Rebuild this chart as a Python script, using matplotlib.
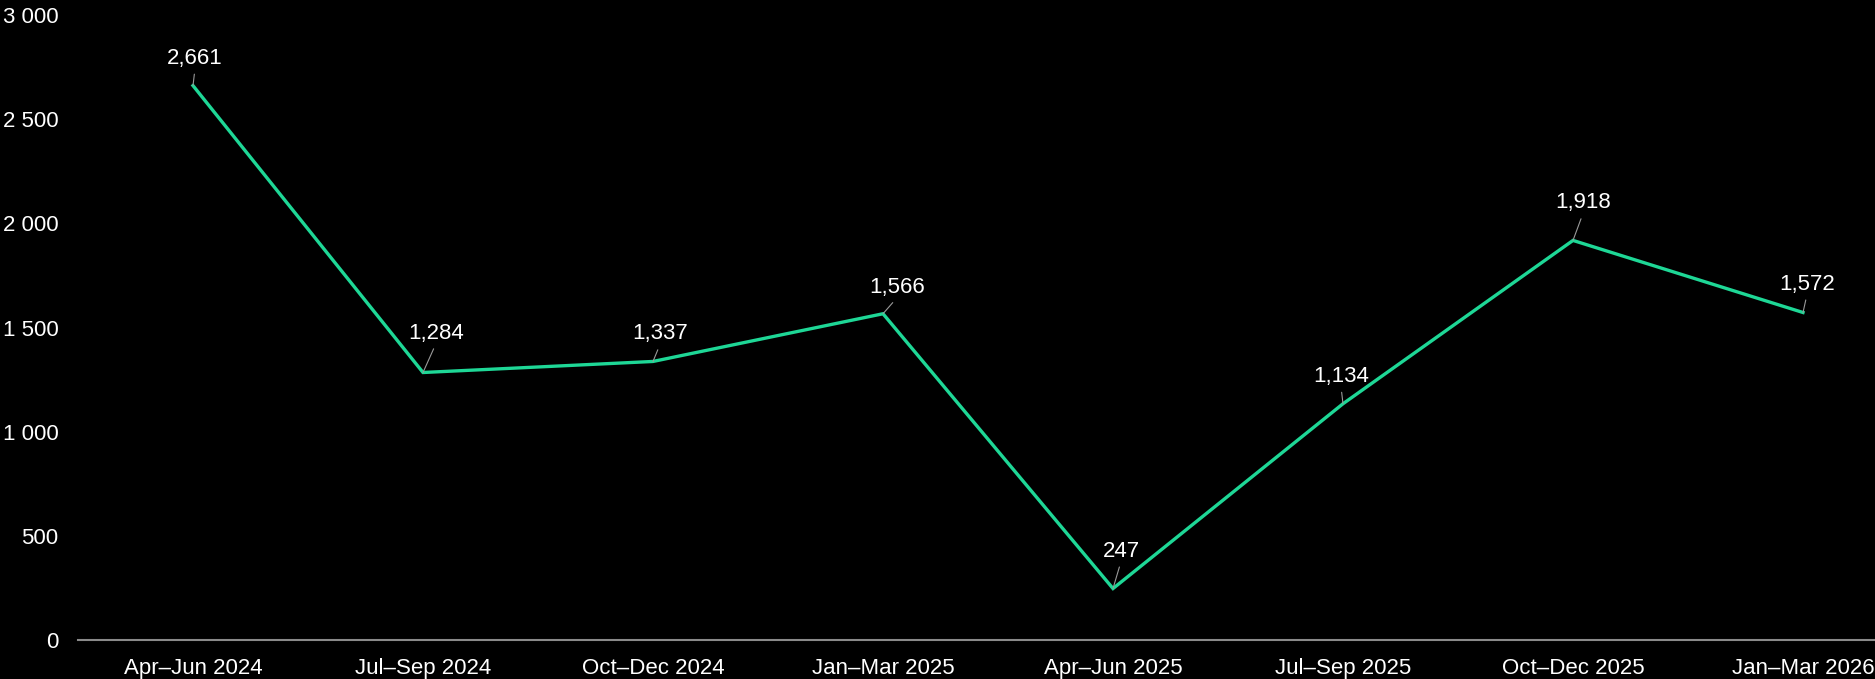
import matplotlib.pyplot as plt
from matplotlib.ticker import FuncFormatter

plt.rcParams['font.family'] = ['Liberation Sans', 'DejaVu Sans']

quarters = ["Apr–Jun 2024", "Jul–Sep 2024", "Oct–Dec 2024", "Jan–Mar 2025",
            "Apr–Jun 2025", "Jul–Sep 2025", "Oct–Dec 2025", "Jan–Mar 2026"]
values = [2661, 1284, 1337, 1566, 247, 1134, 1918, 1572]
# label offsets in pixels (dx, dy) relative to each point
label_dx = [2, 13, 7, 14, 8, -2, 10, 4]
label_dy = [22, 34, 22, 21, 32, 22, 32, 23]

W, H = 1875, 679
fig = plt.figure(figsize=(W / 100, H / 100), dpi=100, facecolor="black")
ax = fig.add_axes([78 / W, (H - 640) / H, 1840 / W, 625 / H], facecolor="black")

x = list(range(len(values)))
ax.plot(x, values, color="#1ED796", lw=2.4, solid_joinstyle="miter", zorder=3)

for i, v in enumerate(values):
    ax.annotate(f"{v:,}", xy=(i, v), xytext=(label_dx[i], label_dy[i]),
                textcoords="offset pixels", ha="center", va="baseline",
                color="white", fontsize=16,
                arrowprops=dict(arrowstyle="-", color="#9a9a9a", lw=0.8,
                                shrinkA=2, shrinkB=0, relpos=(0.5, 0)))

ax.set_xlim(-0.5, len(values) - 0.5)
ax.set_ylim(0, 3000)
ax.set_yticks(range(0, 3001, 500))
ax.yaxis.set_major_formatter(FuncFormatter(lambda v, p: f"{int(v):,}".replace(",", " ")))
ax.set_xticks(x)
ax.set_xticklabels(quarters)

ax.tick_params(axis="both", length=0, colors="white", labelsize=16)
ax.tick_params(axis="y", pad=14)
ax.tick_params(axis="x", pad=13)

for s in ["top", "right", "left"]:
    ax.spines[s].set_visible(False)
ax.spines["bottom"].set_color("#8a8a8a")
ax.spines["bottom"].set_linewidth(1.5)

fig.savefig("out.png", dpi=100, facecolor="black")
